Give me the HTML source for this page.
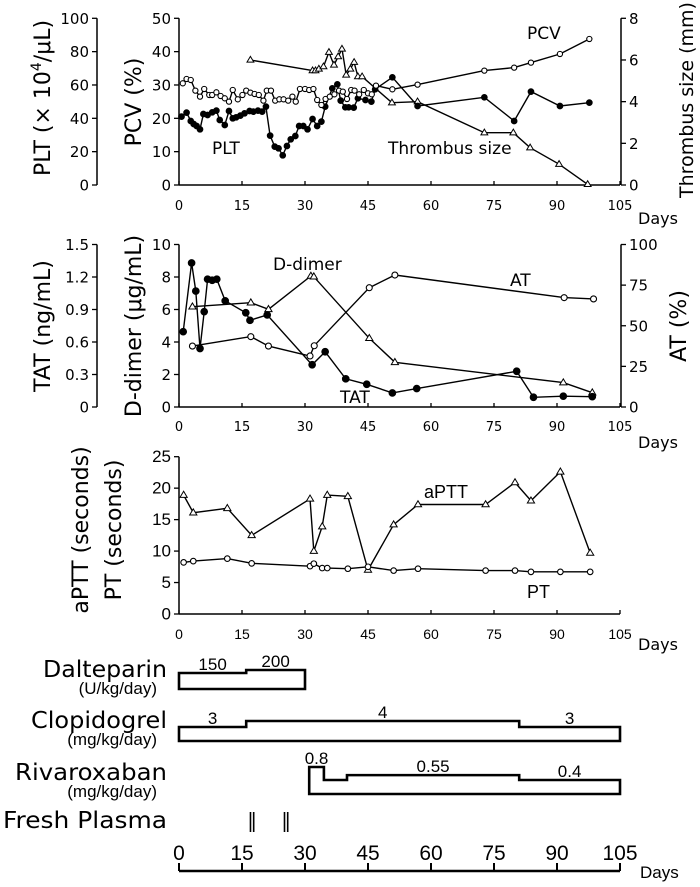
<!DOCTYPE html>
<html><head><meta charset="utf-8"><style>
html,body{margin:0;padding:0;background:#fff;}
svg{display:block;}
text{fill:#000;}
.sans{font-family:"DejaVu Sans","Liberation Sans",sans-serif;}
.nar{font-family:"Liberation Sans Narrow","Liberation Sans",sans-serif;}
</style></head><body>
<svg id="chart" width="700" height="887" viewBox="0 0 700 887" xmlns="http://www.w3.org/2000/svg">
  <g id="p1"></g>
  <g id="p2"></g>
  <g id="p3"></g>
  <g id="p4"></g>

  <text class="sans" transform="translate(50,98) rotate(-90)" text-anchor="middle" font-size="22">PLT (× 10<tspan font-size="14" dy="-9">4</tspan><tspan dy="9">/μL)</tspan></text>
  <text class="sans" transform="translate(141,102) rotate(-90)" text-anchor="middle" font-size="22">PCV (%)</text>
  <text class="sans" transform="translate(693,100) rotate(-90)" text-anchor="middle" font-size="19">Thrombus size (mm)</text>
  <text class="sans" transform="translate(50,326) rotate(-90)" text-anchor="middle" font-size="22">TAT (ng/mL)</text>
  <text class="sans" transform="translate(141,326) rotate(-90)" text-anchor="middle" font-size="22">D-dimer (μg/mL)</text>
  <text class="sans" transform="translate(686,326) rotate(-90)" text-anchor="middle" font-size="22">AT (%)</text>
  <text class="sans" transform="translate(88,530) rotate(-90)" text-anchor="middle" font-size="22">aPTT (seconds)</text>
  <text class="sans" transform="translate(121,530) rotate(-90)" text-anchor="middle" font-size="22">PT (seconds)</text>

  <text class="sans" x="527" y="39" font-size="17">PCV</text>
  <text class="sans" x="212" y="154" font-size="17">PLT</text>
  <text class="sans" x="388" y="154" font-size="17">Thrombus size</text>
  <text class="sans" x="273" y="270" font-size="17">D-dimer</text>
  <text class="sans" x="510" y="286" font-size="17">AT</text>
  <text class="sans" x="340" y="403" font-size="17">TAT</text>
  <text class="nar" x="424" y="498" font-size="18">aPTT</text>
  <text class="nar" x="527" y="598" font-size="18">PT</text>

  <text class="sans" x="167" y="677" text-anchor="end" font-size="23" textLength="124" lengthAdjust="spacingAndGlyphs">Dalteparin</text>
  <text class="nar" x="157" y="694" text-anchor="end" font-size="17">(U/kg/day)</text>
  <text class="sans" x="167" y="728" text-anchor="end" font-size="23" textLength="136" lengthAdjust="spacingAndGlyphs">Clopidogrel</text>
  <text class="nar" x="157" y="745" text-anchor="end" font-size="17">(mg/kg/day)</text>
  <text class="sans" x="167" y="780" text-anchor="end" font-size="23" textLength="152" lengthAdjust="spacingAndGlyphs">Rivaroxaban</text>
  <text class="nar" x="157" y="797" text-anchor="end" font-size="17">(mg/kg/day)</text>
  <text class="sans" x="167" y="828" text-anchor="end" font-size="23" textLength="164" lengthAdjust="spacingAndGlyphs">Fresh Plasma</text>
</svg>
<script>
// ---------- data ----------
const xTicks = [0,15,30,45,60,75,90,105];
// Panel 1
const pcvDays = [0.9,1.8,2.8,3.9,5.0,6.0,7.2,7.9,8.9,9.9,10.9,11.9,12.8,14.0,15.1,16.0,17.0,18.0,19.0,20.1,20.9,21.9,22.9,23.9,24.9,26.0,27.0,27.8,28.8,30.0,31.0,32.0,32.9,33.9,34.9,35.9,37.0,38.1,39.0,40.0,41.0,41.8,42.9,44.0,45.0,45.9,46.9,50.8,56.8,72.7,79.8,83.8,90.7,97.7];
const pcvValues = [30.5,31.8,31.5,28.3,26.5,28.8,27.0,27.0,27.8,26.7,26.0,25.0,28.5,25.7,27.0,28.3,27.7,27.3,27.0,25.3,28.3,28.3,25.3,25.7,25.7,25.3,26.5,25.0,28.8,28.8,28.5,28.8,25.5,24.0,25.8,26.5,27.2,28.3,28.0,25.8,28.5,28.3,27.2,28.5,27.5,27.2,29.8,28.7,30.1,34.3,35.2,36.7,39.3,43.8];
const pltDays = [0.6,1.8,2.8,3.5,4.2,5.0,5.8,6.8,7.9,8.9,9.7,10.9,11.9,12.8,13.6,14.6,15.6,16.8,17.7,18.8,19.8,20.7,21.7,22.8,23.7,24.7,25.7,26.6,27.7,28.6,29.6,30.6,31.8,32.9,33.9,34.8,36.5,37.7,38.5,39.6,40.4,41.6,42.6,44.4,45.8,46.7,50.8,56.8,72.7,79.8,83.8,90.7,97.7];
const pltValues = [41,43.4,38.4,36.6,35.4,33.4,42.6,42,43.6,44.6,39,36,44.4,40,40.6,41.6,43,44.4,44,44.6,44,47,29.6,23,22,17.8,23.4,27.4,29.4,35.4,35.4,33.4,39.6,35.4,38,47,58,60.4,50.6,46.6,46.6,46.4,52,51,50,57.4,64.6,47.4,52.6,38.4,56,47.4,49.4];
const thrDays = [17.0,31.8,32.5,33.3,34.4,35.7,36.9,37.9,38.8,39.8,40.8,41.7,42.6,43.6,50.7,56.8,72.7,79.6,83.6,90.5,97.3];
const thrValues = [6.0,5.49,5.49,5.57,5.68,6.37,5.76,6.16,6.53,5.28,5.57,5.89,5.2,5.2,3.95,4.0,2.51,2.51,1.79,1.0,0.03];
const pcvTicks = [0,10,20,30,40,50];
const pltTicks = [0,20,40,60,80,100];
const thrTicks = [0,2,4,6,8];
// Panel 2
const tatDays = [1.0,3.0,4.0,5.0,6.0,6.8,7.9,9.0,11.0,15.9,16.9,21.0,31.7,34.8,39.7,44.7,50.8,56.6,80.4,84.4,91.5,98.4];
const tatValues = [0.695,1.33,1.07,0.54,0.88,1.18,1.17,1.18,0.98,0.87,0.80,0.85,0.39,0.51,0.26,0.21,0.13,0.17,0.33,0.09,0.10,0.095];
const ddDays = [3.2,17.1,21.3,31.4,32.1,45.3,51.4,91.5,98.4];
const ddValues = [6.17,6.42,6.01,8.06,8.02,4.23,2.75,1.50,0.88];
const atDays = [3.2,17.1,21.3,31.2,32.2,45.3,51.4,91.7,98.7];
const atValues = [37.5,43.3,37.5,31.4,37.7,73.4,81.2,67.3,66.5];
const tatTicks = ["0","0.3","0.6","0.9","1.2","1.5"];
const ddTicks = [0,2,4,6,8,10];
const atTicks = [0,25,50,75,100];
// Panel 3
const apttDays = [1.1,3.4,11.5,17.3,31.2,32.1,34.1,35.3,40.2,45.0,51.1,56.9,73.0,80.0,83.8,90.8,97.9];
const apttValues = [18.9,16.1,16.8,12.5,18.3,10.0,13.9,18.9,18.7,7.0,14.2,17.4,17.4,20.9,18.0,22.6,9.7];
const ptDays = [1.1,3.4,11.5,17.3,31.2,32.1,34.1,35.3,40.2,45.0,51.1,56.9,73.0,80.0,83.8,90.8,97.9];
const ptValues = [8.2,8.4,8.8,8.05,7.6,8.0,7.3,7.3,7.2,7.5,6.9,7.2,6.9,6.9,6.7,6.7,6.7];
const p3Ticks = [0,5,10,15,20,25];
// Treatments: [startDay, endDay, dose]
const dalteparin = [[0,16,150],[16,30,200]];
const clopidogrel = [[0,16,3],[16,81,4],[81,105,3]];
const rivaroxaban = [[31,34.5,0.8],[34.5,40,0.4],[40,81,0.55],[81,105,0.4]];
const dalteparinLabels = ["150","200"];
const clopidogrelLabels = ["3","4","3"];
const rivaroxabanLabels = ["0.8","","0.55","0.4"];
const plasmaDays = [17.4,25.5];

// ---------- scales ----------
const X = d => 179 + d*4.2;
const yPCV = v => 185 - v*(166.7/50);
const yPLT = v => 185 - v*(166.7/100);
const yThr = v => 185 - v*(166.7/8);
const yDD = v => 407 - v*16.25;
const yTAT = v => 407 - v*(162.5/1.5);
const yAT = v => 407 - v*1.625;
const yP3 = v => 614 - v*(157.3/25);

const NS="http://www.w3.org/2000/svg";
function mk(parent, tag, attrs){const e=document.createElementNS(NS,tag);for(const k in attrs)e.setAttribute(k,attrs[k]);parent.appendChild(e);return e;}
const p1=document.getElementById('p1'),p2=document.getElementById('p2'),p3=document.getElementById('p3'),p4=document.getElementById('p4');

function xAxis(g, y0, labY, daysY, cls, fs){
  let l=mk(g,'line',{x1:179,y1:y0,x2:620,y2:y0,stroke:'#000','stroke-width':1.5});
  
  
  xTicks.forEach(t=>{
    let tk=mk(g,'line',{x1:X(t),y1:y0,x2:X(t),y2:y0-4,stroke:'#000','stroke-width':1.3});
    
    
    let tx=mk(g,'text',{x:X(t),y:labY,'text-anchor':'middle','font-size':fs,class:cls});
    tx.textContent=t;
    
    
  });
  let d=mk(g,'text',{x:638,y:daysY,'font-size':16,class:'sans'});
  d.textContent='Days';
  
  
}
function yAxis(g, ax, ticks, sc, side, cls, fs, nm){
  const vals=ticks.map(Number);
  let l=mk(g,'line',{x1:ax,y1:sc(vals[vals.length-1]),x2:ax,y2:sc(0),stroke:'#000','stroke-width':1.5});
  
  
  ticks.forEach(t=>{
    const y=sc(Number(t));
    let tk=mk(g,'line',{x1:ax,y1:y,x2:ax+side*5,y2:y,stroke:'#000','stroke-width':1.3});
    
    
    let tx=mk(g,'text',{x:ax+side*8,y:y+5.5,'text-anchor':side<0?'end':'start','font-size':fs,class:cls});
    tx.textContent=t;
    
    
  });
}
function series(g, days, vals, sc, marker, nm, r){
  const pts=days.map((d,i)=>X(d).toFixed(1)+','+sc(vals[i]).toFixed(1)).join(' ');
  let pl=mk(g,'polyline',{points:pts,fill:'none',stroke:'#000','stroke-width':1.4});
  
  
  days.forEach((d,i)=>{
    const x=X(d),y=sc(vals[i]);let m;
    if(marker==='tri'){
      m=mk(g,'polygon',{points:`${x},${y-r} ${x-r*0.95},${y+r*0.6} ${x+r*0.95},${y+r*0.6}`,fill:'#fff',stroke:'#000','stroke-width':1});
    } else {
      m=mk(g,'circle',{cx:x,cy:y,r:r,fill:marker==='filled'?'#000':'#fff',stroke:'#000','stroke-width':1.1});
    }
    
    
  });
}
// Panel 1
xAxis(p1,185,210,224,'sans',13);
yAxis(p1,179,pcvTicks,yPCV,-1,'sans',15,'pcv');
yAxis(p1,97,pltTicks,yPLT,-1,'sans',15,'plt');
yAxis(p1,621,thrTicks,yThr,1,'sans',15,'thrombus');
series(p1,thrDays,thrValues,yThr,'tri','thrombus',3.6);
series(p1,pltDays,pltValues,yPLT,'filled','plt',2.8);
series(p1,pcvDays,pcvValues,yPCV,'open','pcv',2.6);
// Panel 2
xAxis(p2,407,431,448,'sans',13);
yAxis(p2,179,ddTicks,yDD,-1,'sans',15,'ddimer');
yAxis(p2,97,tatTicks,yTAT,-1,'sans',15,'tat');
yAxis(p2,621,atTicks,yAT,1,'sans',15,'at');
series(p2,ddDays,ddValues,yDD,'tri','ddimer',3.8);
series(p2,atDays,atValues,yAT,'open','at',3);
series(p2,tatDays,tatValues,yTAT,'filled','tat',3.3);
// Panel 3
xAxis(p3,614,639,650,'nar',14);
yAxis(p3,179,p3Ticks,yP3,-1,'nar',17,'p3');
series(p3,apttDays,apttValues,yP3,'tri','aptt',3.8);
series(p3,ptDays,ptValues,yP3,'open','pt',2.8);

// Treatments
function box(segs, labels, bottom, h, nm){
  let d=`M${X(segs[0][0])},${bottom}`;
  segs.forEach(s=>{const top=bottom-h(s[2]);d+=` L${X(s[0])},${top} L${X(s[1])},${top}`;});
  d+=` L${X(segs[segs.length-1][1])},${bottom} Z`;
  let p=mk(p4,'path',{d:d,fill:'none',stroke:'#000','stroke-width':2.6,'stroke-linejoin':'miter'});
  
  
  segs.forEach((s,i)=>{
    if(!labels[i])return;
    const top=bottom-h(s[2]);
    let t=mk(p4,'text',{x:(X(s[0])+X(s[1]))/2,y:top-3,'text-anchor':'middle','font-size':17,class:'nar'});
    t.textContent=labels[i];
    
    
  });
}
box(dalteparin,dalteparinLabels,689,v=>0.06*v+7,'dalteparin');
box(clopidogrel,clopidogrelLabels,741,v=>6*v-4,'clopidogrel');
box(rivaroxaban,rivaroxabanLabels,794,v=>1+32.5*v,'rivaroxaban');
plasmaDays.forEach(d=>{
  [-1.6,1.6].forEach(o=>{
    let l=mk(p4,'line',{x1:X(d)+o,y1:812,x2:X(d)+o,y2:832,stroke:'#000','stroke-width':1.6});
    
    
  });
});
// bottom axis
let ba=mk(p4,'line',{x1:179,y1:871,x2:620,y2:871,stroke:'#000','stroke-width':2.4});


xTicks.forEach(t=>{
  let tk=mk(p4,'line',{x1:X(t),y1:871,x2:X(t),y2:863,stroke:'#000','stroke-width':2});
  
  
  let tx=mk(p4,'text',{x:X(t),y:860,'text-anchor':'middle','font-size':21,class:'nar'});
  tx.textContent=t;
  
  
});
let bd=mk(p4,'text',{x:640,y:878,'font-size':17,class:'nar'});
bd.textContent='Days';


</script>
</body></html>
